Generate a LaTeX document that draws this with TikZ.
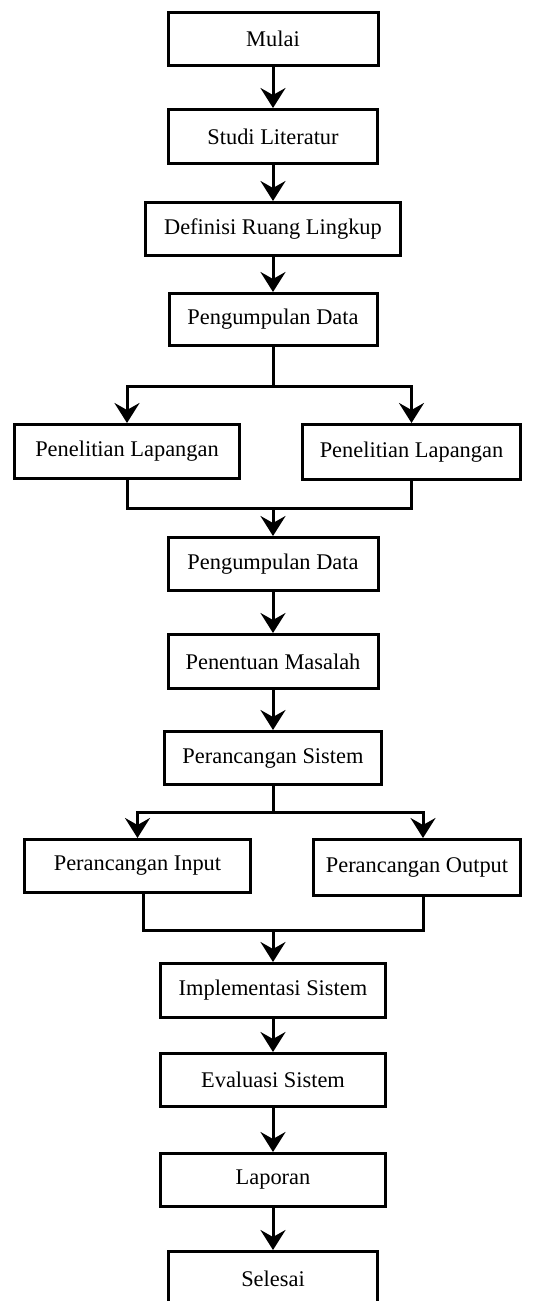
\documentclass[tikz,border=0pt]{standalone}
\usepackage{fontspec}
\setmainfont{Liberation Serif}
\usetikzlibrary{arrows.meta}
\tikzset{
  blok/.style={rectangle,draw,line width=3pt,inner sep=0pt,font=\fontsize{22.4}{26}\selectfont},
  garis/.style={line width=3pt},
  panah/.style={line width=3pt,-{Stealth[length=20pt,width=25pt,inset=7pt]}}
}
\begin{document}
\begin{tikzpicture}[x=1pt,y=-1pt]
\useasboundingbox (0,0) rectangle (554,1301);
\clip (0,0) rectangle (554,1301);
\node[blok,minimum width=210pt,minimum height=53pt] (b1) at (273,39) {Mulai};
\node[blok,minimum width=209pt,minimum height=54pt] (b2) at (273,136.5) {Studi Literatur};
\node[blok,minimum width=255pt,minimum height=53pt] (b3) at (273,229) {Definisi Ruang Lingkup};
\node[blok,minimum width=208pt,minimum height=52pt] (b4) at (273,319.5) {Pengumpulan Data};
\node[blok,minimum width=225pt,minimum height=54pt] (b5) at (127,451.5) {Penelitian Lapangan};
\node[blok,minimum width=218pt,minimum height=55pt] (b6) at (411.5,452) {Penelitian Lapangan};
\node[blok,minimum width=210pt,minimum height=53pt] (b7) at (273,564) {Pengumpulan Data};
\node[blok,minimum width=210pt,minimum height=54pt] (b8) at (273,661.5) {Penentuan Masalah};
\node[blok,minimum width=217pt,minimum height=53pt] (b9) at (273,758) {Perancangan Sistem};
\node[blok,minimum width=226pt,minimum height=53pt] (b10) at (137.5,866) {Perancangan Input};
\node[blok,minimum width=207pt,minimum height=56pt] (b11) at (417,867.5) {Perancangan Output};
\node[blok,minimum width=225pt,minimum height=54pt] (b12) at (273,990.5) {Implementasi Sistem};
\node[blok,minimum width=225pt,minimum height=53pt] (b13) at (273,1080) {Evaluasi Sistem};
\node[blok,minimum width=225pt,minimum height=53pt] (b14) at (273,1180) {Laporan};
\node[blok,minimum width=209pt,minimum height=54pt] (b15) at (273,1278.5) {Selesai};
\coordinate (p1) at (273,386);
\coordinate (p2) at (273,508);
\coordinate (p3) at (273,812);
\coordinate (p4) at (273,930);
\draw[panah] (b1) -- (b2);
\draw[panah] (b2) -- (b3);
\draw[panah] (b3) -- (b4);
\draw[garis] (b4) -- (p1);
\draw[panah] (p1) -| (b5);
\draw[panah] (p1) -| (b6);
\draw[garis] (b5) |- (p2) -| (b6);
\draw[panah] (p2) -- (b7);
\draw[panah] (b7) -- (b8);
\draw[panah] (b8) -- (b9);
\draw[garis] (b9) -- (p3);
\draw[panah] (p3) -| (b10);
\draw[panah] (p3) -| ([xshift=6pt]b11.north);
\draw[garis] ([xshift=5.5pt]b10.south) |- (p4) -| ([xshift=6pt]b11.south);
\draw[panah] (p4) -- (b12);
\draw[panah] (b12) -- (b13);
\draw[panah] (b13) -- (b14);
\draw[panah] (b14) -- (b15);
\end{tikzpicture}
\end{document}
